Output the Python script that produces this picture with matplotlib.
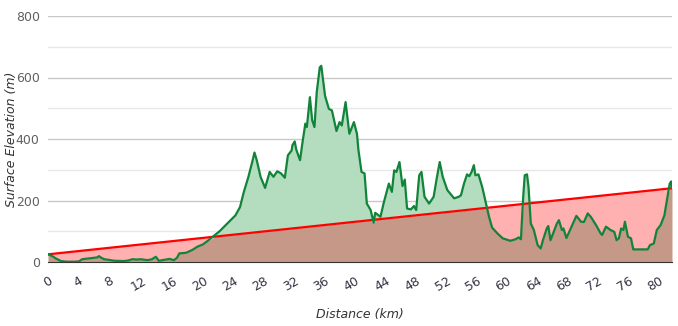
import numpy as np
import matplotlib
matplotlib.use("Agg")
import matplotlib.pyplot as plt

# elevation profile along the route
dist_km = [0.0, 0.5, 1.0, 1.7, 2.5, 3.5, 4.1, 4.5, 5.2, 6.0, 6.5, 6.7, 7.0, 7.4, 8.0, 8.7,
           10.0, 10.6, 11.1, 11.7, 12.2, 13.1, 13.7, 14.2, 14.6, 15.3, 16.0, 16.6, 17.0, 17.3,
           18.2, 19.0, 19.7, 20.4, 21.0, 22.0, 22.6, 23.4, 24.0, 24.7, 25.3, 25.8, 26.4, 26.9,
           27.2, 27.5, 28.0, 28.6, 29.2, 29.7, 30.2, 30.7, 31.2, 31.6, 32.1, 32.2, 32.5, 32.7,
           33.2, 33.5, 33.9, 34.1, 34.5, 34.8, 35.1, 35.4, 35.8, 36.0, 36.5, 37.0, 37.4, 38.0,
           38.4, 38.7, 39.2, 39.7, 40.3, 40.7, 40.9, 41.3, 41.7, 42.0, 42.5, 42.9, 43.1, 43.8,
           44.2, 44.9, 45.3, 45.6, 45.9, 46.3, 46.7, 47.0, 47.3, 47.8, 48.2, 48.5, 48.9, 49.2,
           49.6, 50.2, 50.8, 51.2, 51.6, 52.0, 52.6, 53.5, 54.1, 54.4, 54.8, 55.2, 55.5, 55.8,
           56.1, 56.3, 56.7, 57.2, 57.7, 58.1, 58.5, 59.2, 59.9, 60.9, 61.6, 62.0, 62.3, 62.6,
           62.8, 63.1, 63.3, 63.6, 64.0, 64.5, 64.9, 65.2, 65.7, 65.9, 66.2, 66.7, 67.0, 67.3,
           67.7, 67.9, 68.3, 68.7, 69.1, 69.6, 70.0, 70.2, 70.6, 71.1, 71.5, 72.2, 72.8, 73.0,
           73.5, 74.1, 74.6, 74.9, 75.2, 75.5, 75.8, 76.0, 76.4, 76.8, 77.1, 79.0, 79.3, 79.8,
           80.2, 80.7, 81.2, 81.6, 81.9, 82.1, 82.2]
elev_m = [25, 20, 12, 3, 1, 1, 2, 9, 11, 13, 15, 19, 14, 9, 7, 4,
          3, 5, 9, 8, 9, 6, 9, 17, 4, 7, 10, 6, 14, 28,
          30, 39, 50, 57, 68, 88, 100, 120, 135, 152, 179, 228, 277, 325,
          356, 331, 277, 241, 293, 277, 295, 288, 274, 347, 363, 380, 392, 366,
          331, 385, 450, 439, 536, 461, 439, 552, 633, 638, 540, 498, 493, 426,
          455, 444, 520, 417, 455, 417, 363, 293, 288, 190, 169, 128, 160, 147,
          190, 255, 228, 298, 293, 325, 247, 268, 174, 171, 182, 169, 282, 293,
          212, 190, 212, 271, 325, 277, 234, 207, 212, 217, 255, 285, 279, 293,
          315, 282, 285, 244, 190, 147, 112, 93, 77, 69, 74, 80, 74, 212,
          282, 285, 244, 125, 104, 55, 44, 71, 109, 117, 71, 104, 123, 136,
          104, 109, 78, 100, 122, 150, 138, 131, 130, 158, 147, 120, 93, 88,
          115, 104, 98, 71, 77, 109, 104, 131, 82, 77, 41, 41, 55, 60,
          104, 120, 152, 212, 255, 262, 240]

# straight grade from start to finish
grade_km = [0.0, 82.2]
grade_m = [25, 240]

x = np.array(dist_km)
y = np.array(elev_m)
g = np.interp(x, grade_km, grade_m)

fig = plt.figure(figsize=(6.78, 3.26), dpi=100)
ax = fig.add_axes([48 / 678, 1 - 262 / 326, 624 / 678, 246 / 326])

ax.fill_between(x, 0, np.minimum(y, g), color="#c59888", lw=0)
ax.fill_between(x, y, g, where=g >= y, interpolate=True, color="#ffb0b0", lw=0)
ax.fill_between(x, g, y, where=y >= g, interpolate=True, color="#b4dcbf", lw=0)
ax.plot(grade_km, grade_m, color="#ff0000", lw=1.6, zorder=3)
ax.plot(x, y, color="#11843a", lw=1.6, zorder=4)

ax.set_xlim(0, 82.2)
ax.set_ylim(0, 800)
ax.set_xticks(np.arange(0, 81, 4))
ax.set_yticks([0, 200, 400, 600, 800])
ax.set_yticks([100, 300, 500, 700], minor=True)
ax.grid(axis="y", which="major", color="#c8c8c8", lw=1)
ax.grid(axis="y", which="minor", color="#e8e8e8", lw=1)
ax.set_axisbelow(True)
for s in ["top", "right", "left"]:
    ax.spines[s].set_visible(False)
ax.spines["bottom"].set_color("#333333")
ax.tick_params(axis="both", which="both", length=0)
ax.tick_params(axis="y", labelsize=9, labelcolor="#606060", pad=6)
ax.tick_params(axis="x", labelsize=9, labelcolor="#333344", pad=9)
for lbl in ax.get_xticklabels():
    lbl.set_rotation(30)
    lbl.set_ha("center")

ax.set_xlabel("Distance (km)", fontsize=9, style="italic", color="#333333", labelpad=10)
ax.set_ylabel("Surface Elevation (m)", fontsize=9, style="italic", color="#333333")
ax.yaxis.set_label_coords(-30 / 624, 0.5)

fig.savefig("out.png", dpi=100)
